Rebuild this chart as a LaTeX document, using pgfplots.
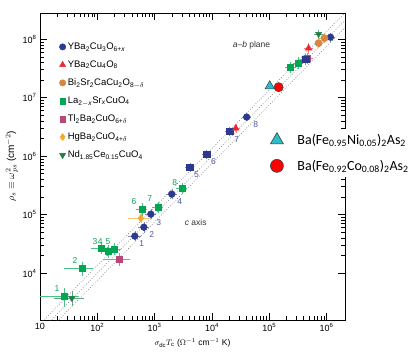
\documentclass[border=0pt]{standalone}
\usepackage{fontspec}
\setmainfont{Liberation Sans}
\newfontfamily\carlito{Carlito}
\usepackage{pgfplots}
\pgfplotsset{compat=1.18}

\definecolor{ybco}{RGB}{43,57,144}
\definecolor{yoct}{RGB}{237,40,45}
\definecolor{bisco}{RGB}{217,133,59}
\definecolor{lsco}{RGB}{0,166,81}
\definecolor{tlco}{RGB}{183,72,120}
\definecolor{hgco}{RGB}{247,166,46}
\definecolor{ndco}{RGB}{30,125,70}
\definecolor{bani}{RGB}{40,190,200}
\definecolor{numblue}{RGB}{75,85,165}

\pgfplotsset{
  eb/.style={error bars/.cd, x dir=both, x explicit, y dir=both, y explicit,
    error bar style={line width=0.5pt, #1}, error mark options={mark size=2pt, #1}},
  pts/.style={only marks, forget plot},
  guide/.style={gray, line width=0.6pt, dash pattern=on 0.8pt off 1.8pt, forget plot},
}

\begin{document}
\begin{tikzpicture}
\useasboundingbox (-40pt,-34pt) rectangle (369pt,320pt);
\begin{axis}[
  at={(0pt,0pt)}, anchor=south west,
  scale only axis, width=305pt, height=307pt,
  xmode=log, ymode=log,
  xmin=10, xmax=2.1e6, ymin=1.58e3, ymax=2.8e8,
  xtick={10,100,1000,1e4,1e5,1e6},
  xticklabels={10,10\textsuperscript{2},10\textsuperscript{3},10\textsuperscript{4},10\textsuperscript{5},10\textsuperscript{6}},
  ytick={1e4,1e5,1e6,1e7,1e8},
  yticklabels={10\textsuperscript{4},10\textsuperscript{5},10\textsuperscript{6},10\textsuperscript{7},10\textsuperscript{8}},
  tick label style={font=\fontsize{9}{10}\selectfont},
  major tick length=7pt, minor tick length=4pt,
  tick style={black, line width=0.5pt},
  axis line style={line width=0.6pt},
  xlabel={$\sigma_{\mathrm{dc}}T_{\mathrm{c}}$ ($\Omega^{-1}$ cm$^{-1}$ K)},
  ylabel={$\rho_s \equiv \omega_{ps}^2$ (cm$^{-2}$)},
  xlabel style={font=\fontsize{8.5}{10}\selectfont, at={(axis description cs:0.5,-0.075)}, anchor=center},
  ylabel style={font=\fontsize{10}{11}\selectfont, at={(axis description cs:-0.092,0.5)}, anchor=center, rotate=0},
  legend style={at={(0.063,0.91)}, anchor=north west, draw=none, fill=none,
    font=\fontsize{9.5}{10}\selectfont, row sep=5.8pt, inner sep=0pt},
  legend cell align=left,
]
% Homes-law guide lines
\addplot[guide] coordinates {(5,375) (5e6,3.75e8)};
\addplot[guide] coordinates {(5,500) (5e6,5.0e8)};
\addplot[guide] coordinates {(5,675) (5e6,6.75e8)};

% legend images
\addlegendimage{only marks, mark=*, mark size=3.2pt, ybco}
\addlegendentry{YBa\textsubscript{2}Cu\textsubscript{3}O\textsubscript{6+\textit{x}}}
\addlegendimage{only marks, mark=triangle*, mark size=3.5pt, yoct}
\addlegendentry{YBa\textsubscript{2}Cu\textsubscript{4}O\textsubscript{8}}
\addlegendimage{only marks, mark=*, mark size=3.2pt, bisco}
\addlegendentry{Bi\textsubscript{2}Sr\textsubscript{2}CaCu\textsubscript{2}O\textsubscript{8$-\delta$}}
\addlegendimage{only marks, mark=square*, mark size=2.8pt, lsco}
\addlegendentry{La\textsubscript{2$-$\textit{x}}Sr\textsubscript{\textit{x}}CuO\textsubscript{4}}
\addlegendimage{only marks, mark=square*, mark size=2.8pt, tlco}
\addlegendentry{Tl\textsubscript{2}Ba\textsubscript{2}CuO\textsubscript{6+$\delta$}}
\addlegendimage{only marks, mark=diamond*, mark size=3.5pt, hgco}
\addlegendentry{HgBa\textsubscript{2}CuO\textsubscript{4+$\delta$}}
\addlegendimage{only marks, mark=triangle*, mark options={rotate=180}, mark size=3.5pt, ndco}
\addlegendentry{Nd\textsubscript{1.85}Ce\textsubscript{0.15}CuO\textsubscript{4}}

% Nd2-xCexCuO4
\addplot[pts, mark=triangle*, mark options={rotate=180}, mark size=3.5pt, ndco, eb={ndco!70}] coordinates {
  (36,3.74e3) +- (17,0.8e3)
  (7.26e5,1.22e8) +- (8e4,1.2e7)
};
% La2-xSrxCuO4
\addplot[pts, mark=square*, mark size=3pt, lsco, eb={lsco!70}] coordinates {
  (26.2,4.0e3) +- (18,1.2e3)
  (54,1.2e4) +- (25,2.5e3)
  (115,2.7e4) +- (30,4e3)
  (152,2.4e4) +- (35,4e3)
  (200,2.6e4) +- (40,4e3)
  (599,1.24e5) +- (80,2e4)
  (1137,1.35e5) +- (150,2e4)
  (2980,2.8e5) +- (400,4e4)
  (2.36e5,3.3e7) +- (3e4,5e6)
  (3.25e5,3.9e7) +- (4e4,6e6)
};
% Tl2Ba2CuO6+d
\addplot[pts, mark=square*, mark size=3pt, tlco, eb={tlco!70}] coordinates {
  (238,1.74e4) +- (100,3e3)
  (4.67e5,4.73e7) +- (6e4,7e6)
};
% HgBa2CuO4+d
\addplot[pts, mark=diamond*, mark size=3.8pt, hgco, eb={hgco!70}] coordinates {
  (575,8.7e4) +- (200,1e4)
};
% YBa2Cu3O6+x circles
\addplot[pts, mark=*, mark size=3.4pt, ybco, eb={ybco!60}] coordinates {
  (452,4.29e4) +- (80,5e3)
  (649,6.1e4) +- (100,8e3)
  (859,1.02e5) +- (120,1.2e4)
  (1995,2.24e5) +- (250,2.5e4)
  (4.04e4,4.65e6) +- (4e3,4e5)
  (1.17e6,1.08e8) +- (1.5e5,1.2e7)
};
% YBa2Cu3O6+x squares
\addplot[pts, mark=square*, mark size=3.2pt, ybco, eb={ybco!60}] coordinates {
  (4.1e3,6.5e5) +- (400,6e4)
  (8.1e3,1.08e6) +- (800,1e5)
  (2.04e4,2.67e6) +- (2e3,2.5e5)
  (4.3e5,4.55e7) +- (5e4,6e6)
};
% YBa2Cu4O8
\addplot[pts, mark=triangle*, mark size=3.8pt, yoct, eb={yoct!60}] coordinates {
  (2.6e4,3.0e6) +- (3e3,3e5)
  (4.86e5,7.0e7) +- (5e4,9e6)
};
% Bi2Sr2CaCu2O8-d
\addplot[pts, mark=*, mark size=3.6pt, bisco, eb={bisco!60}] coordinates {
  (7.26e5,8.55e7) +- (8e4,1e7)
  (9.2e5,1.04e8) +- (1e5,1.2e7)
};

% sample numbers
\begin{scope}[every node/.style={font=\fontsize{8.5}{9}\selectfont, inner sep=0pt}]
\node[lsco] at (axis cs:19.8,5.5e3) {1};
\node[lsco] at (axis cs:40.7,1.67e4) {2};
\node[lsco] at (axis cs:90.8,3.5e4) {3};
\node[lsco] at (axis cs:113,3.5e4) {4};
\node[lsco] at (axis cs:153,3.5e4) {5};
\node[lsco] at (axis cs:437,1.7e5) {6};
\node[lsco] at (axis cs:824,1.9e5) {7};
\node[lsco] at (axis cs:2250,3.6e5) {8};
\node[numblue] at (axis cs:598,3.26e4) {1};
\node[numblue] at (axis cs:893,4.6e4) {2};
\node[numblue] at (axis cs:1183,7.4e4) {3};
\node[numblue] at (axis cs:2750,1.64e5) {4};
\node[numblue] at (axis cs:5400,4.9e5) {5};
\node[numblue] at (axis cs:1.07e4,8.2e5) {6};
\node[numblue] at (axis cs:2.7e4,1.95e6) {7};
\node[numblue] at (axis cs:5.8e4,3.5e6) {8};
\node[black!80, font=\fontsize{8.5}{9}\selectfont] at (axis cs:4.9e4,7.9e7) {\textit{a}--\textit{b} plane};
\node[black!80, font=\fontsize{8.5}{9}\selectfont] at (axis cs:5.2e3,7.4e4) {\textit{c} axis};
\end{scope}
\end{axis}

% iron pnictide points with their own legend
\begin{axis}[
  at={(0pt,0pt)}, anchor=south west,
  scale only axis, width=305pt, height=307pt,
  xmode=log, ymode=log,
  xmin=10, xmax=2.1e6, ymin=1.58e3, ymax=2.8e8,
  hide axis,
  legend style={at={(0.745,0.622)}, anchor=north west, draw=none, fill=white,
    font=\carlito\fontsize{14}{16}\selectfont, row sep=10pt, inner sep=3pt},
  legend cell align=left,
]
\addlegendimage{only marks, mark=triangle*, mark size=7.5pt, mark options={fill=bani, draw=black!75, line width=0.6pt}}
\addlegendentry{\hspace*{12pt}Ba(Fe\textsubscript{0.95}Ni\textsubscript{0.05})\textsubscript{2}As\textsubscript{2}}
\addlegendimage{only marks, mark=*, mark size=6.5pt, mark options={fill=red, draw=black!75, line width=0.6pt}}
\addlegendentry{\hspace*{12pt}Ba(Fe\textsubscript{0.92}Co\textsubscript{0.08})\textsubscript{2}As\textsubscript{2}}
\addplot[pts, mark=triangle*, mark size=5.5pt, mark options={fill=bani, draw=black!75, line width=0.5pt}] coordinates {(1.02e5,1.57e7)};
\addplot[pts, mark=*, mark size=4.6pt, mark options={fill=red, draw=black!75, line width=0.5pt}] coordinates {(1.46e5,1.51e7)};
\end{axis}
\end{tikzpicture}
\end{document}
